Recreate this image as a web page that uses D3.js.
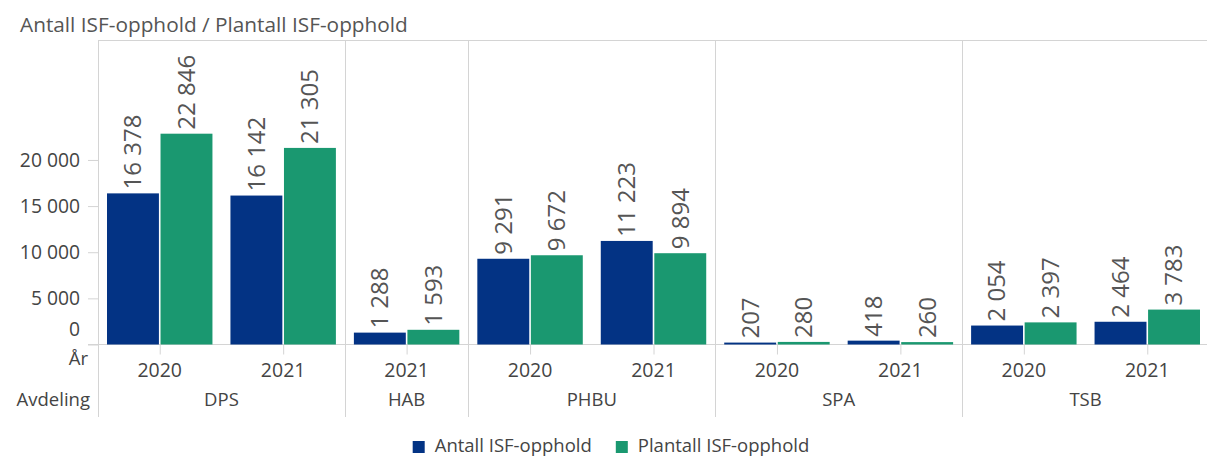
<!DOCTYPE html>
<html>
<head>
<meta charset="utf-8">
<script src="https://cdn.jsdelivr.net/npm/d3@7"></script>
<style>
  html, body { margin: 0; padding: 0; background: #fff; }
  svg { display: block; font-family: "Open Sans", sans-serif; }
</style>
</head>
<body>
<svg id="chart" width="1207" height="457"></svg>
<script>
// Avdeling / år per stolpegruppe
const departments = ["DPS", "DPS", "HAB", "PHBU", "PHBU", "SPA", "SPA", "TSB", "TSB"];
const years = ["2020", "2021", "2021", "2020", "2021", "2020", "2021", "2020", "2021"];
const antall = [16378, 16142, 1288, 9291, 11223, 207, 418, 2054, 2464];
const plantall = [22846, 21305, 1593, 9672, 9894, 280, 260, 2397, 3783];
const seriesNames = ["Antall ISF-opphold", "Plantall ISF-opphold"];
const seriesColors = ["#033384", "#1a9870"];
const yTicks = [0, 5000, 10000, 15000, 20000];
const yMax = 33000;

const nb = d3.formatLocale({ decimal: ",", thousands: "\u00a0", grouping: [3], currency: ["", " kr"] });
const fmt = nb.format(",d");

const W = 1207, H = 457;
const plotLeft = 98, plotRight = 1209, plotTop = 40, plotBottom = 344.5;
const gridColor = "#d4d4d4";
const textColor = "#444";

const svg = d3.select("#chart");

const keys = departments.map((d, i) => i);
const x = d3.scaleBand().domain(keys).range([plotLeft, plotRight]).padding(0);
const xs = d3.scaleBand().domain([0, 1]).range([9, x.bandwidth() - 9]).paddingInner(0.03).paddingOuter(0);
const y = d3.scaleLinear().domain([0, yMax]).range([plotBottom, plotTop]);

// Title
svg.append("text")
  .attr("x", 20).attr("y", 32)
  .attr("fill", "#555").style("font-size", "20.8px")
  .text("Antall ISF-opphold / Plantall ISF-opphold");

// Frame: top line and left axis line
svg.append("line").attr("x1", plotLeft).attr("x2", W).attr("y1", plotTop + 0.5).attr("y2", plotTop + 0.5)
  .attr("stroke", gridColor);
svg.append("line").attr("x1", plotLeft + 0.5).attr("x2", plotLeft + 0.5).attr("y1", plotTop).attr("y2", 417)
  .attr("stroke", gridColor);

// Department separators
const groups = [];
departments.forEach((d, i) => {
  const g = groups.length ? groups[groups.length - 1] : null;
  if (g && g.name === d) g.end = i; else groups.push({ name: d, start: i, end: i });
});
groups.slice(1).forEach(g => {
  const gx = Math.round(x(g.start)) + 0.5;
  svg.append("line").attr("x1", gx).attr("x2", gx).attr("y1", plotTop).attr("y2", 417)
    .attr("stroke", gridColor);
});

// Y axis
const yAxis = svg.append("g")
  .attr("transform", `translate(${plotLeft},0)`)
  .call(d3.axisLeft(y).tickValues(yTicks).tickFormat(fmt).tickSize(10).tickPadding(8));
yAxis.select(".domain").remove();
yAxis.selectAll(".tick line").attr("stroke", gridColor);
yAxis.selectAll(".tick text")
  .attr("fill", textColor)
  .style("font-size", "19.3px")
  .style("font-family", "'Open Sans', sans-serif");
yAxis.selectAll(".tick").filter(d => d === 0).select("text").attr("dy", "-0.45em");

// Baseline
svg.append("line").attr("x1", plotLeft - 10).attr("x2", W).attr("y1", y(0)).attr("y2", y(0))
  .attr("stroke", gridColor);

// Bars
const rows = keys.map(i => ({ i, vals: [antall[i], plantall[i]] }));
const cat = svg.append("g").selectAll("g").data(rows).join("g")
  .attr("transform", d => `translate(${x(d.i)},0)`);

cat.selectAll("rect").data(d => d.vals.map((v, s) => ({ v, s }))).join("rect")
  .attr("x", d => xs(d.s))
  .attr("width", xs.bandwidth())
  .attr("y", d => y(d.v))
  .attr("height", d => y(0) - y(d.v))
  .attr("fill", d => seriesColors[d.s]);

// Value labels, rotated
cat.selectAll("text.val").data(d => d.vals.map((v, s) => ({ v, s }))).join("text")
  .attr("class", "val")
  .attr("transform", d => `translate(${xs(d.s) + xs.bandwidth() / 2},${y(d.v) - 4}) rotate(-90)`)
  .attr("dy", "0.35em")
  .attr("fill", "#555")
  .style("font-size", "24px")
  .text(d => fmt(d.v));

// Year ticks and labels
cat.append("line")
  .attr("x1", x.bandwidth() / 2 + 0.5).attr("x2", x.bandwidth() / 2 + 0.5)
  .attr("y1", y(0)).attr("y2", y(0) + 10)
  .attr("stroke", gridColor);
cat.append("text")
  .attr("x", x.bandwidth() / 2).attr("y", 377)
  .attr("text-anchor", "middle").attr("fill", textColor)
  .style("font-size", "19.5px")
  .text(d => years[d.i]);

// Department labels
svg.append("g").selectAll("text").data(groups).join("text")
  .attr("x", g => (x(g.start) + x(g.end) + x.bandwidth()) / 2)
  .attr("y", 406)
  .attr("text-anchor", "middle").attr("fill", textColor)
  .style("font-size", "18.5px")
  .text(g => g.name);

// Row headers
svg.append("text").attr("x", 88).attr("y", 365).attr("text-anchor", "end")
  .attr("fill", textColor).style("font-size", "18.5px").text("År");
svg.append("text").attr("x", 90).attr("y", 406).attr("text-anchor", "end")
  .attr("fill", textColor).style("font-size", "18.5px").text("Avdeling");

// Legend
const legend = svg.append("g");
const items = legend.selectAll("g").data(seriesNames).join("g");
items.append("rect").attr("width", 12).attr("height", 12).attr("y", 441)
  .attr("fill", (d, i) => seriesColors[i]);
items.append("text").attr("x", 22).attr("y", 452)
  .attr("fill", textColor).style("font-size", "18.5px").text(d => d);
let cx = 0;
const offsets = [];
items.each(function (d, i) {
  offsets.push(cx);
  cx += 22 + this.querySelector("text").getComputedTextLength() + 24;
});
const total = cx - 24;
const startX = 611 - total / 2;
items.attr("transform", (d, i) => `translate(${startX + offsets[i]},0)`);
</script>
</body>
</html>
